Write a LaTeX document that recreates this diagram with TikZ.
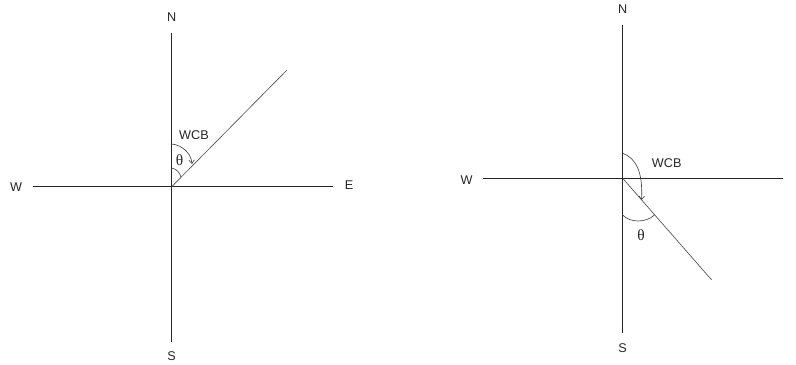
\documentclass[tikz,border=0pt]{standalone}
\usepackage{fontspec}
\setmainfont{Liberation Sans}
\newfontfamily\thfont{Liberation Serif}
\usetikzlibrary{arrows.meta}
\begin{document}
\begin{tikzpicture}[>=Stealth,x=0.025cm,y=-0.025cm,font=\fontsize{9}{11}\selectfont,
  axis/.style={draw=black!85,line width=0.7pt},
  bearing/.style={draw=black!70,line width=0.45pt},
  angarc/.style={draw=black!75,line width=0.45pt},
  lbl/.style={inner sep=1pt,text=black!85},
  thlbl/.style={inner sep=1pt,text=black!85,font=\thfont\fontsize{11}{12}\selectfont}]
\useasboundingbox (0,0) rectangle (796,364);
% left: bearing in the NE quadrant
\coordinate (oL) at (171.7,186.7);
\node[lbl] (nL) at (171.7,17) {N};
\node[lbl] (sL) at (171.7,356) {S};
\node[lbl] (wL) at (16,187) {W};
\node[lbl] (eL) at (349,185) {E};
\coordinate (nLe) at (171.7,33);
\coordinate (sLe) at (171.7,342);
\coordinate (wLe) at (33,186.7);
\coordinate (eLe) at (333,186.7);
\coordinate (bL) at (287,70);
\draw[axis] (nLe)--(sLe);
\draw[axis] (wLe)--(eLe);
\draw[bearing] (oL)--(bL);
\node[lbl] (wcbL) at (194,135) {WCB};
\node[thlbl] (thL) at (179.5,160) {θ};
\coordinate (a1L) at (171.7,144);
\coordinate (a2L) at (192,164);
\draw[angarc,-{Straight Barb[length=2.5pt,width=4pt]}] (a1L) .. controls (182,145) and (191,153) .. (a2L);
\coordinate (i1L) at (171.7,168);
\coordinate (i2L) at (181,177.4);
\draw[angarc] (i1L) .. controls (176,169) and (180,172) .. (i2L);
% right: bearing in the SE quadrant
\coordinate (oR) at (622.7,178.3);
\node[lbl] (nR) at (622.7,9) {N};
\node[lbl] (sR) at (622.7,348) {S};
\node[lbl] (wR) at (466.7,180) {W};
\node[lbl] (eR) at (799.5,178) {E};
\coordinate (nRe) at (622.7,25);
\coordinate (sRe) at (622.7,333);
\coordinate (wRe) at (483,178.3);
\coordinate (eRe) at (783,178.3);
\coordinate (bR) at (711.7,280);
\draw[axis] (nRe)--(sRe);
\draw[axis] (wRe)--(eRe);
\draw[bearing] (oR)--(bR);
\node[lbl] (wcbR) at (666.7,163) {WCB};
\node[thlbl] (thR) at (641,235) {θ};
\coordinate (a1R) at (622.7,153.3);
\coordinate (a2R) at (641.5,200);
\draw[angarc,-{Straight Barb[length=2.5pt,width=4pt]}] (a1R) .. controls (636,158) and (643,172) .. (a2R);
\coordinate (i1R) at (622.7,215);
\coordinate (i2R) at (654.5,215);
\draw[angarc] (i1R) .. controls (630,223) and (646,223) .. (i2R);
\end{tikzpicture}
\end{document}
